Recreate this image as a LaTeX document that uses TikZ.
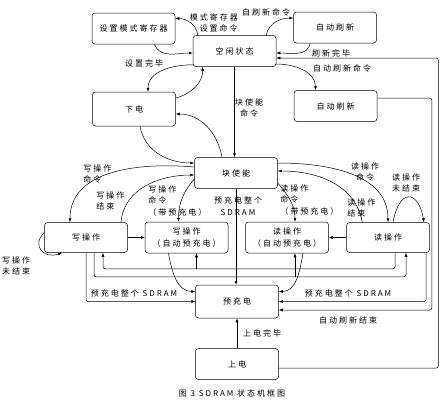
\documentclass[tikz,border=0pt]{standalone}
\usepackage{fontspec}
\newfontfamily\cjk[LetterSpace=25]{Noto Sans CJK SC}
\usetikzlibrary{arrows.meta}

\begin{document}
\begin{tikzpicture}[x=1pt,y=1pt,line width=.5pt,
    font=\cjk\fontsize{8}{11.5}\selectfont,
    box/.style={draw,rounded corners=3pt,minimum width=83pt,minimum height=31pt,inner sep=1pt,align=center},
    arr/.style={-{Latex[length=4pt,width=3pt]}},
    lbl/.style={inner sep=0pt,align=center}]
    \useasboundingbox (0,0) rectangle (445,-400);
    \node[box] (mrs) at (133.5,-28.5) {设置模式寄存器};
    \node[box] (idle) at (234.5,-51) {空闲状态};
    \node[box] (ref1) at (335,-27.5) {自动刷新};
    \node[box,minimum height=34pt] (pd) at (134,-109) {下电};
    \node[box] (ref2) at (335.5,-106) {自动刷新};
    \node[box] (act) at (236,-173) {块使能};
    \node[box,minimum height=30pt] (wr) at (86,-237.5) {写操作};
    \node[box] (wra) at (186.5,-237.5) {写操作\\（自动预充电）};
    \node[box] (rda) at (287,-237.5) {读操作\\（自动预充电）};
    \node[box,minimum height=30pt] (rd) at (388,-237.5) {读操作};
    \node[box,minimum height=33pt] (pre) at (237,-301.5) {预充电};
    \node[box] (pwr) at (237,-364) {上电};

    \draw[arr] ([xshift=5pt]idle.north west) to[out=95,in=0] ([yshift=10pt]mrs.east);
    \draw[arr] ([xshift=21pt]mrs.south) to[out=-70,in=180] ([yshift=-2pt]idle.west);
    \draw[arr] ([xshift=-10pt]idle.north east) to[out=80,in=180] ([yshift=9.5pt]ref1.west);
    \draw[arr] ([xshift=17pt]ref1.south west) to[out=-100,in=0] ([yshift=-2pt]idle.east);
    \draw[arr,rounded corners=2pt] ([yshift=-4pt]pwr.east) -| ([xshift=162pt,yshift=-7pt]idle.east) -- ([yshift=-7pt]idle.east);
    \draw[arr] ([yshift=-13pt]idle.east) to[out=0,in=90] ([xshift=-20pt]ref2.north);
    \draw[arr,rounded corners=2pt] ([yshift=8pt]ref2.east) -| ([xshift=153pt,yshift=-8.5pt]pre.east) -- ([yshift=-8.5pt]pre.east);
    \draw[arr] (idle.south) -- (idle.south |- act.north);
    \draw[arr] ([yshift=2pt]idle.south west) to[out=180,in=90] ([xshift=14pt]pd.north);
    \draw[arr] ([yshift=11pt]pd.east) to[out=15,in=-90] ([xshift=10pt]idle.south west);
    \draw[arr] ([xshift=-14pt]act.north) to[out=100,in=0] ([yshift=-5pt]pd.east);
    \draw[arr] ([xshift=6pt]pd.south) to[out=-80,in=180] ([yshift=10pt]act.west);
    \draw[arr] ([yshift=6pt]act.west) to[out=175,in=90] ([xshift=-16pt]wr.north);
    \draw[arr] ([xshift=35pt]wr.north) to[out=85,in=180] ([yshift=-2pt]act.west);
    \draw[arr] ([yshift=-6pt]act.west) to[out=230,in=90] ([xshift=-8pt]wra.north);
    \draw[arr] ([yshift=-10pt]act.east) to[out=-50,in=90] ([xshift=8pt]rda.north);
    \draw[arr] ([yshift=10pt]act.east) to[out=0,in=90] (rd.north);
    \draw[arr] ([xshift=16pt]rd.north west) to[out=100,in=0] ([yshift=2pt]act.east);
    \draw[arr] ([xshift=5pt]rd.north) to[out=80,in=100,looseness=2.8] ([xshift=36pt]rd.north);
    \draw[arr] ([yshift=5pt]wr.west) to[out=225,in=200,looseness=1.8] ([xshift=-24pt]wr.south);
    \foreach \a/\b in {wr.east/wra.west,rd.west/rda.east,pwr.north/pre.south}
    \draw[arr] (\a) -- (\b);
    \draw[arr] ([xshift=-18pt]wra.south) to[out=-80,in=180] ([yshift=10pt]pre.west);
    \draw[arr] ([xshift=16pt]rda.south) to[out=-100,in=0] ([yshift=10pt]pre.east);
    \draw[arr] (act.south) -- (act.south |- pre.north);
    \draw[arr,rounded corners=2pt] (wr.south) |- (pre.west);
    \draw[arr,rounded corners=2pt] ([xshift=38pt]rd.south) |- (pre.east);
    \draw[arr,rounded corners=2pt] ([xshift=7pt]rd.south) |- ([xshift=17pt,yshift=-16pt]wr.south) -- ([xshift=17pt]wr.south);
    \draw[arr] ([xshift=10pt,yshift=-16pt]wra.south) -- ([xshift=10pt]wra.south);
    \draw[arr,rounded corners=2pt] ([xshift=8pt]wr.south) |- ([xshift=18pt,yshift=-24pt]rd.south) -- ([xshift=18pt]rd.south);
    \draw[arr] ([xshift=8pt,yshift=-24pt]rda.south) -- ([xshift=8pt]rda.south);

    \node[lbl,anchor=east,align=right] (l1) at (238,-23) {模式寄存器\\设置命令};
    \node[lbl] (l2) at (266,-12) {自刷新命令};
    \node[lbl] (l3) at (144,-63) {设置完毕};
    \node[lbl] (l4) at (331,-53) {刷新完毕};
    \node[lbl] (l5) at (342,-68) {自动刷新命令};
    \node[lbl] (l6) at (249,-108) {块使能\\命令};
    \node[lbl,anchor=west,align=left] (l7) at (83,-174) {写操作\\命令};
    \node[lbl,anchor=west,align=left] (l8) at (96,-201) {写操作\\结束};
    \node[lbl,anchor=west,align=left] (l9) at (148,-201) {写操作\\命令\\（带预充电）};
    \node[lbl] (l10) at (238,-206) {预充电整个\\SDRAM};
    \node[lbl,anchor=west,align=left] (l11) at (280,-200) {读操作\\命令\\（带预充电）};
    \node[lbl,anchor=west,align=left] (l12) at (347,-208) {读操作\\结束};
    \node[lbl] (l13) at (365,-172) {读操作\\命令};
    \node[lbl] (l14) at (406,-183) {读操作\\未结束};
    \node[lbl] (l15) at (16,-266) {写操作\\未结束};
    \node[lbl] (l16) at (134,-293) {预充电整个 SDRAM};
    \node[lbl] (l17) at (348,-293) {预充电整个 SDRAM};
    \node[lbl] (l18) at (348,-320) {自动刷新结束};
    \node[lbl] (l19) at (262,-333) {上电完毕};
    \node[lbl] (cap) at (232,-393) {图 3 SDRAM 状态机框图};
\end{tikzpicture}
\end{document}
